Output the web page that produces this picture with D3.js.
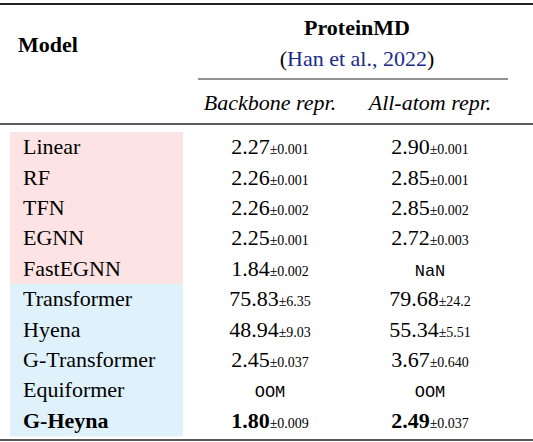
<!DOCTYPE html>
<html><head><meta charset="utf-8">
<script src="https://cdn.jsdelivr.net/npm/d3@7"></script>
<style>body{margin:0;background:#fff}</style>
</head><body><div id="chart"></div>
<script>
const models = ["Linear","RF","TFN","EGNN","FastEGNN","Transformer","Hyena","G-Transformer","Equiformer","G-Heyna"];
const groups = ["pink","pink","pink","pink","pink","blue","blue","blue","blue","blue"];
const backbone = ["2.27","2.26","2.26","2.25","1.84","75.83","48.94","2.45","OOM","1.80"];
const backboneStd = ["±0.001","±0.001","±0.002","±0.001","±0.002","±6.35","±9.03","±0.037","","±0.009"];
const allatom = ["2.90","2.85","2.85","2.72","NaN","79.68","55.34","3.67","OOM","2.49"];
const allatomStd = ["±0.001","±0.001","±0.002","±0.003","","±24.2","±5.51","±0.640","","±0.037"];
const best = "G-Heyna";

const width = 533, height = 442;
const svg = d3.select("#chart").append("svg").attr("width", width).attr("height", height)
  .style("font-family", "'Liberation Serif', 'Times New Roman', serif");

const y = d3.scaleBand().domain(models).range([132, 436]);
const colX = [270, 430];
const bg = {pink: "#fde3e3", blue: "#dff2fb"};
const fs = 22;

svg.selectAll("rect.bg").data(models).join("rect")
  .attr("x", 10).attr("width", 173)
  .attr("y", d => y(d)).attr("height", y.bandwidth() + 0.5)
  .attr("fill", (d, i) => bg[groups[i]]);

const rule = (x1, x2, yy, w) => svg.append("line").attr("x1", x1).attr("x2", x2)
  .attr("y1", yy).attr("y2", yy).attr("stroke", "#222").attr("stroke-width", w);
rule(0, 533, 4, 2);
rule(198, 508, 79, 1);
rule(0, 533, 124, 1.5);
rule(0, 533, 440, 1.5);

svg.append("text").attr("x", 18).attr("y", 52).attr("font-weight", "bold").attr("font-size", fs).text("Model");
svg.append("text").attr("x", 357).attr("y", 35).attr("text-anchor", "middle").attr("font-weight", "bold").attr("font-size", fs).text("ProteinMD");
const cite = svg.append("text").attr("x", 357).attr("y", 66).attr("text-anchor", "middle").attr("font-size", fs);
cite.append("tspan").text("(");
cite.append("tspan").attr("fill", "#1a2a8a").text("Han et al., 2022");
cite.append("tspan").text(")");
["Backbone repr.", "All-atom repr."].forEach((t, i) =>
  svg.append("text").attr("x", colX[i]).attr("y", 110).attr("text-anchor", "middle")
    .attr("font-style", "italic").attr("font-size", fs).text(t));

const base = d => y(d) + y.bandwidth() / 2 + 7;
svg.selectAll("text.model").data(models).join("text")
  .attr("x", 23).attr("y", base).attr("font-size", fs)
  .attr("font-weight", d => d === best ? "bold" : null).text(d => d);

function cell(vals, stds, cx) {
  models.forEach((m, i) => {
    const t = svg.append("text").attr("x", cx).attr("y", base(m)).attr("text-anchor", "middle");
    if (stds[i] === "") {
      t.attr("font-family", "'Liberation Mono', monospace").attr("font-size", 17).text(vals[i]);
    } else {
      t.append("tspan").attr("font-size", fs).attr("font-weight", m === best ? "bold" : null).text(vals[i]);
      t.append("tspan").attr("font-size", 14).text(stds[i]);
    }
  });
}
cell(backbone, backboneStd, colX[0]);
cell(allatom, allatomStd, colX[1]);
</script></body></html>
